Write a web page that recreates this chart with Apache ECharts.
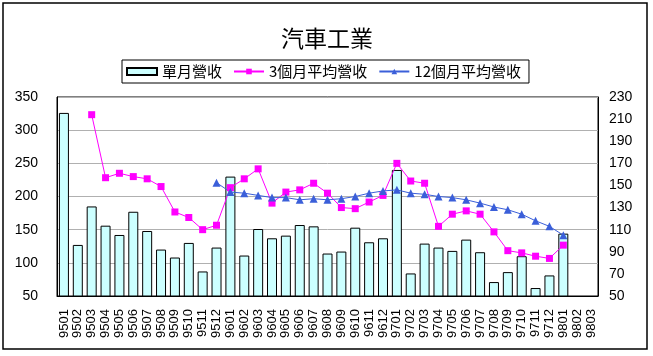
<!DOCTYPE html>
<html>
<head>
<meta charset="utf-8">
<script src="https://cdn.jsdelivr.net/npm/echarts@6/dist/echarts.min.js"></script>
<style>
html,body{margin:0;padding:0;background:#fff;}
#c{width:653px;height:356px;}
</style>
</head>
<body>
<div id="c"></div>
<script>
var titleText = '汽車工業';
var seriesNames = ['單月營收', '3個月平均營收', '12個月平均營收'];
var months = ['9501','9502','9503','9504','9505','9506','9507','9508','9509','9510','9511','9512',
              '9601','9602','9603','9604','9605','9606','9607','9608','9609','9610','9611','9612',
              '9701','9702','9703','9704','9705','9706','9707','9708','9709','9710','9711','9712',
              '9801','9802','9803'];
var revenue = [326,127,185,156,142,177,148,120,108,130,87,123,
               230,111,151,137,141,157,155,114,117,153,131,137,
               240,84,129,123,118,135,116,71,86,110,62,81,
               144,null,null];
var avg3 = [null,null,214,157,161,158,156,149,126,121,110,114,
            148,156,165,134,144,146,152,143,130,129,135,141,
            170,154,152,113,124,127,124,108,91,89,86,84,
            96,null,null];
var avg12 = [null,null,null,null,null,null,null,null,null,null,null,152.5,
             144,143,141,139,139,137,138,137,138,140,143,145,
             146,143,142,140,139,137,134,130.5,128,124,118,113,
             105,null,null];
var leftTicks = {min:50, max:350, interval:50};
var rightTicks = {min:50, max:230, interval:20};

var chart = echarts.init(document.getElementById('c'));
var numFont = '"Liberation Sans", Arial, sans-serif';
var cjkFont = '"Noto Sans CJK TC", sans-serif';
chart.setOption({
  animation: false,
  backgroundColor: '#fff',
  graphic: [{
    type: 'rect', shape: {x: 3, y: 3, width: 644, height: 346},
    style: {fill: 'none', stroke: '#000', lineWidth: 1.5}, silent: true
  }],
  title: {
    text: titleText, left: 322, top: 22, textAlign: 'center',
    textStyle: {fontFamily: cjkFont, fontSize: 23, fontWeight: 'normal', color: '#000'}
  },
  legend: {
    left: 122, top: 60,
    padding: [4, 8, 4, 4],
    borderColor: '#000', borderWidth: 1,
    itemWidth: 30, itemHeight: 7, itemGap: 11,
    textStyle: {fontFamily: cjkFont, fontSize: 15, color: '#000'},
    data: [{name: seriesNames[0], icon: 'rect'}, {name: seriesNames[1]}, {name: seriesNames[2]}]
  },
  grid: {left: 57, right: 55, top: 97, bottom: 60, show: true, borderColor: '#000', borderWidth: 1, containLabel: false},
  xAxis: {
    type: 'category', data: months, boundaryGap: true,
    axisLine: {lineStyle: {color: '#000'}},
    axisTick: {show: false},
    axisLabel: {rotate: 90, interval: 0, fontSize: 13, margin: 13, color: '#000', fontFamily: numFont}
  },
  yAxis: [{
    type: 'value', min: leftTicks.min, max: leftTicks.max, interval: leftTicks.interval,
    axisLine: {show: true, lineStyle: {color: '#000'}},
    axisTick: {show: false},
    axisLabel: {fontSize: 14, margin: 19, color: '#000', fontFamily: numFont},
    splitLine: {lineStyle: {color: '#b0b0b0'}}
  }, {
    type: 'value', min: rightTicks.min, max: rightTicks.max, interval: rightTicks.interval,
    position: 'right',
    axisLine: {show: true, lineStyle: {color: '#000'}},
    axisTick: {show: false},
    axisLabel: {fontSize: 14, margin: 11, color: '#000', fontFamily: numFont},
    splitLine: {show: false}
  }],
  series: [{
    name: seriesNames[0], type: 'bar', data: revenue, barWidth: 10,
    itemStyle: {color: '#CCFFFF', borderColor: '#000', borderWidth: 1}
  }, {
    name: seriesNames[1], type: 'line', yAxisIndex: 1, data: avg3,
    symbol: 'rect', symbolSize: 7,
    lineStyle: {color: '#FF00FF', width: 1},
    itemStyle: {color: '#FF00FF'}
  }, {
    name: seriesNames[2], type: 'line', yAxisIndex: 1, data: avg12,
    symbol: 'triangle', symbolSize: 8,
    lineStyle: {color: '#3B5FD9', width: 1},
    itemStyle: {color: '#3B5FD9'}
  }]
});
</script>
</body>
</html>
